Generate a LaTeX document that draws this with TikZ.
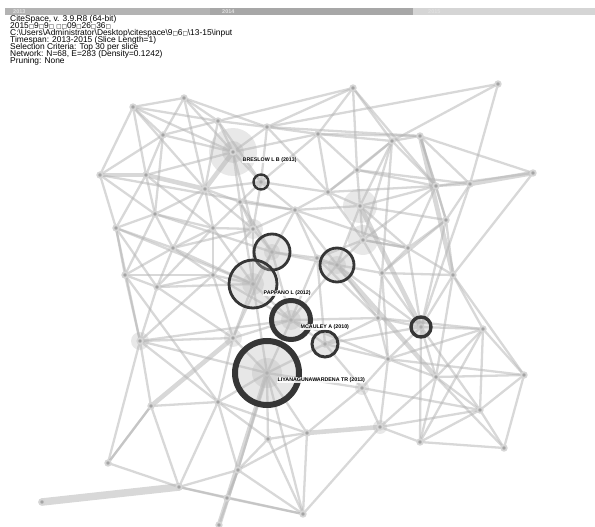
\documentclass[tikz,border=0pt]{standalone}
\usepackage{fontspec}
\setmainfont{Liberation Sans}
\newfontfamily\boxfont{DejaVu Sans}
\newcommand{\bx}{{\boxfont\fontsize{5.6}{6}\selectfont □}}
\pgfdeclarelayer{bg}
\pgfsetlayers{bg,main}
\definecolor{linkgray}{HTML}{B4B4B4}
\definecolor{dotgray}{HTML}{A4A4A4}
\definecolor{halogray}{HTML}{D6D6D6}
\definecolor{ringdark}{HTML}{363636}
\definecolor{barA}{HTML}{B3B3B3}
\definecolor{barB}{HTML}{A7A7A7}
\definecolor{barC}{HTML}{D5D5D5}
\tikzset{
  lk/.style={draw=linkgray, draw opacity=0.52, line width=2.3pt, line cap=round},
  lkwide/.style={lk, line width=4.6pt},
  dot/.style={circle, fill=dotgray, draw=halogray, line width=1.8pt, inner sep=0pt, minimum size=5.5pt},
  halo/.style={fill=halogray, fill opacity=0.55},
  ringline/.style={draw=ringdark, line width=2.8pt},
  ringfill/.style={fill=gray!55, fill opacity=0.35},
  info/.style={anchor=west, inner sep=0pt, text height=5.2pt, text depth=0pt,
    font=\fontsize{8.4}{8.4}\selectfont},
  yearlbl/.style={anchor=west, inner sep=0pt, text=white!88!black, font=\bfseries\fontsize{5.5}{6}\selectfont},
  lbl/.style={anchor=west, fill=white, fill opacity=0.85, text opacity=1, inner sep=0.5pt,
    font=\bfseries\fontsize{5.3}{5.5}\selectfont}
}
\begin{document}
\begin{tikzpicture}[x=1pt,y=-1pt]
\useasboundingbox (0,0) rectangle (595,527);

% time slices bar
\fill[barA] (5,8) rectangle (210,15);
\fill[barB] (210,8) rectangle (413,15);
\fill[barC] (413,8) rectangle (595,15);
\node[yearlbl] (y13) at (13,11.5) {2013};
\node[yearlbl] (y14) at (222,11.5) {2014};
\node[yearlbl] (y15) at (428,11.5) {2015};

% run information
\node[info] (i1) at (10,19.3) {CiteSpace, v. 3.9.R8 (64-bit)};
\node[info] (i2) at (10,26.3) {2015\bx9\bx9\bx{} \bx\bx09\bx26\bx36\bx};
\node[info] (i3) at (10,33.3) {C:\textbackslash Users\textbackslash Administrator\textbackslash Desktop\textbackslash citespace\textbackslash 9\bx6\bx\textbackslash 13-15\textbackslash input};
\node[info] (i4) at (10,40.3) {Timespan: 2013-2015 (Slice Length=1)};
\node[info] (i5) at (10,47.3) {Selection Criteria: Top 30 per slice};
\node[info] (i6) at (10,54.3) {Network: N=68, E=283 (Density=0.1242)};
\node[info] (i7) at (10,61.3) {Pruning: None};

% network nodes
\foreach \n/\x/\y in {
 1/353/88, 2/498/84, 3/184/98, 4/133/107, 5/163/135, 6/218/121, 7/267/127,
 8/318/134, 9/392/141, 10/420/136, 11/233/152, 12/100/175, 13/146/175,
 14/205/189, 15/261/182, 16/328/192, 17/357/170, 18/436/186, 19/470/184,
 20/533/173, 21/360/206, 22/295/210, 23/240/202, 24/155/214, 25/116/228,
 26/253/229, 27/213/228, 28/446/220, 29/363/240, 30/173/248, 31/272/252,
 32/337/265, 33/253/284, 34/125/275, 35/157/287, 36/213/275, 37/382/273,
 38/408/248, 39/453/275, 40/317/258, 41/291/320, 42/325/344, 43/421/327,
 44/140/341, 45/233/338, 46/378/318, 47/483/329, 48/388/359, 49/436/377,
 50/524/375, 51/362/388, 52/267/373, 53/151/406, 54/218/402, 55/480/410,
 56/380/427, 57/307/433, 58/268/439, 59/420/442, 60/504/448, 61/108/463,
 62/179/487, 63/42/502, 64/303/514, 65/219/525, 66/238/470, 67/227/498}
  \node[dot] (p\n) at (\x,\y) {};

\begin{pgfonlayer}{bg}
  % soft halos of the busier nodes
  \fill[halo] (p11) circle[radius=24];
  \fill[halo, fill=gray!45] (p11) circle[radius=11];
  \fill[halo] (p21) circle[radius=17];
  \fill[halo] (p29) circle[radius=15];
  \fill[halo] (p26) circle[radius=10];
  \fill[halo] (p45) circle[radius=9];
  \fill[halo] (p44) circle[radius=9];
  \fill[halo] (p56) circle[radius=7];
  \fill[halo] (p51) circle[radius=7];
  % co-citation links
  \foreach \a/\b in {
   1/7,1/8,1/9,1/17,1/18,1/6,2/7,2/9,2/19,20/10,20/18,20/39,
   10/9,10/18,10/28,10/19,10/7,10/8,9/8,9/18,9/29,9/21,9/37,9/16,
   18/19,18/28,18/21,18/38,18/29,19/28,19/43,28/38,28/39,28/43,28/37,
   38/37,38/43,38/39,38/29,39/43,39/47,39/50,39/49,
   3/4,3/5,3/6,3/11,3/14,3/7,4/5,4/6,4/13,4/14,4/11,
   5/12,5/13,5/6,5/11,5/24,6/7,6/11,6/14,6/15,7/8,7/11,7/15,7/16,
   8/16,8/17,8/11,8/15,11/15,11/23,11/13,11/26,12/24,12/25,12/4,
   13/24,13/25,13/27,14/15,14/23,14/27,14/24,14/26,14/30,
   15/16,15/22,15/23,15/26,16/17,16/22,16/21,16/29,16/18,
   17/21,17/9,17/18,17/19,21/29,21/22,21/32,21/28,21/38,
   22/23,22/26,22/31,22/40,22/32,23/26,23/27,23/31,23/33,
   24/25,24/27,24/30,24/34,25/34,25/30,25/44,25/35,
   26/27,26/31,26/33,26/36,26/30,27/30,27/36,27/35,27/33,
   29/32,29/37,29/40,29/38,30/34,30/35,30/36,30/33,
   31/33,31/40,31/32,31/41,31/45,32/40,32/37,32/41,32/46,32/43,
   33/36,33/41,33/45,33/52,33/35,34/35,34/44,34/36,35/36,35/44,35/45,
   36/45,36/44,36/41,37/43,37/46,37/48,37/39,40/41,40/46,40/42,
   41/42,41/45,41/52,41/46,41/48,42/46,42/48,42/52,42/51,42/43,
   43/46,43/47,43/48,43/49,43/55,43/59,44/45,44/53,44/54,44/61,44/52,
   45/52,45/54,46/48,46/47,47/49,47/50,47/55,47/48,
   48/49,48/51,48/56,48/50,49/50,49/55,49/56,49/59,49/60,50/60,50/55,
   51/52,51/56,51/57,51/55,52/54,52/57,52/58,52/66,52/64,
   53/54,53/61,53/62,54/57,54/66,54/62,54/58,55/60,55/56,55/59,
   56/59,56/64,57/58,57/64,57/66,58/66,58/64,59/60,59/47,
   61/62,61/53,62/64,62/66,62/67,64/66,64/67,65/66,66/67,
   12/22,44/41,25/33,34/54,22/38,24/31}
    \draw[lk] (p\a.center) -- (p\b.center);
  \foreach \a/\b in {12/13,13/14,56/57,10/39,19/20,65/52,45/53,14/11,32/49,21/43}
    \draw[lkwide] (p\a.center) -- (p\b.center);
  \draw[lk, line width=7.5pt] (p62.center) -- (p63.center);
\end{pgfonlayer}

% highly cited references: rings of citation bursts
\fill[ringfill] (p15) circle[radius=6];
\draw[ringline, line width=2.4pt] (p15) circle[radius=7.5];
\fill[ringfill] (p31) circle[radius=17];
\fill[ringfill] (p31) circle[radius=8];
\draw[ringline] (p31) circle[radius=18];
\fill[ringfill] (p32) circle[radius=16];
\fill[ringfill] (p32) circle[radius=9];
\draw[ringline] (p32) circle[radius=17];
\fill[ringfill] (p33) circle[radius=23];
\fill[ringfill] (p33) circle[radius=11];
\draw[ringline] (p33) circle[radius=24];
\fill[ringfill] (p41) circle[radius=17];
\fill[ringfill] (p41) circle[radius=10];
\draw[ringline, line width=5pt] (p41) circle[radius=19.5];
\fill[ringfill] (p42) circle[radius=11.5];
\draw[ringline, line width=3pt] (p42) circle[radius=13];
\fill[ringfill] (p43) circle[radius=8];
\draw[ringline, line width=3.4pt] (p43) circle[radius=10];
\fill[ringfill] (p52) circle[radius=29];
\fill[ringfill] (p52) circle[radius=15];
\draw[ringline, line width=6pt] (p52) circle[radius=32];

% reference labels
\node[lbl] (l15) at (242,160) {BRESLOW L B (2013)};
\node[lbl] (l33) at (263,293) {PAPPANO L (2012)};
\node[lbl] (l41) at (300,327) {MCAULEY A (2010)};
\node[lbl] (l52) at (277,380) {LIYANAGUNAWARDENA TR (2013)};
\end{tikzpicture}
\end{document}
